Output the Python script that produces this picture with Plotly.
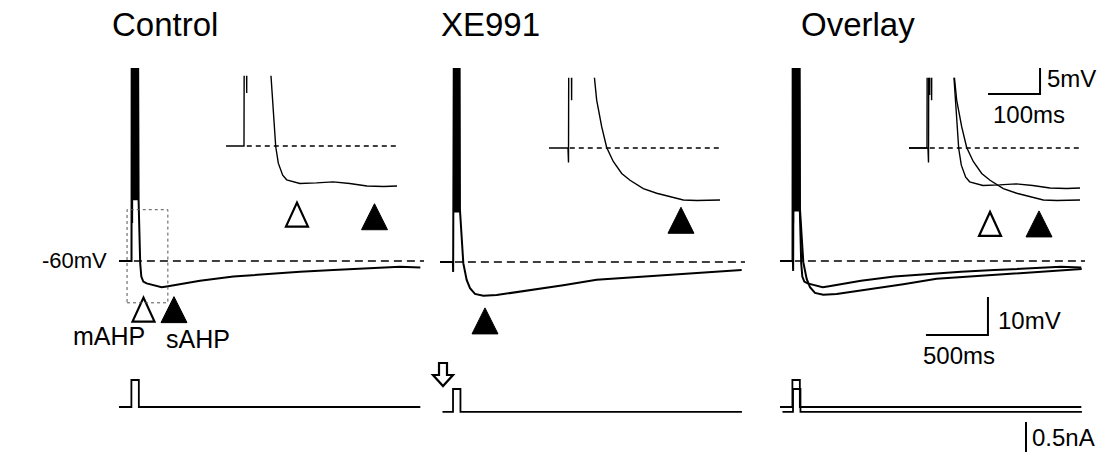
import plotly.graph_objects as go

W, H = 1108, 453

# ---------------- data ----------------
# whole-trace membrane potential, Control (time ms, voltage mV)
ctrl_t = [0, 60, 101, 103, 106, 109, 112, 115, 118, 121, 124, 127, 130, 133, 136, 139, 142, 145, 148, 151,
          158, 165, 171, 180, 196, 223, 277, 344, 384, 519, 653, 922, 1191, 1460, 1728, 1997, 2266, 2430]
ctrl_v = [-60, -60, -60, 25, -50, 25, -44, 25, -44, 25, -44, 25, -44, 25, -44, 25, -44, 25, -44, 25,
          -44, -57.1, -60.6, -64.1, -65.4, -65.9, -66.3, -66.9, -66.7, -65.9, -65.2, -64.1, -63.4, -62.8,
          -62.4, -61.9, -61.5, -61.7]
# whole-trace membrane potential, XE991
xe_t = [0, 60, 104, 106, 108, 111, 114, 117, 120, 123, 126, 129, 132, 135, 138, 141, 144, 147, 150, 153, 156,
        161, 175, 188, 215, 242, 282, 349, 457, 591, 726, 994, 1263, 1532, 1801, 2070, 2433]
xe_v = [-60, -60, -60, -62.6, 25, -51, 25, -47, 25, -47, 25, -47, 25, -47, 25, -47, 25, -47, 25, -47, 25,
        -46.3, -55.1, -60.3, -64.7, -66.9, -68.4, -68.9, -68.7, -68.1, -67.4, -66.1, -64.7, -64.1, -63.4,
        -62.8, -62.1]
# expanded (inset) view of the first ~400 ms
ctrl_in_t = [65, 99.6, 101.5, 104.8, 107, 110, 113, 116, 119, 122, 125, 128, 131, 134, 137, 140, 143, 146,
             149.5, 151.5, 156, 160.6, 165.6, 174, 181.7, 207, 239, 271, 303, 336, 368, 394]
ctrl_in_v = [-60, -60, 25, -49.8, 25, -44, 25, -44, 25, -44, 25, -44, 25, -44, 25, -44, 25, -44,
             25, -46.5, -54.2, -60.1, -63.3, -65.6, -66.5, -67.2, -67.1, -66.9, -67.2, -67.7, -67.8, -67.7]
xe_in_t = [65, 101.5, 102.5, 104.5, 108.5, 111, 114, 117, 120, 123, 126, 129, 132, 135, 138, 141, 144, 147.5,
           152.1, 156.7, 166.3, 175.9, 188.6, 204.8, 220.8, 246.4, 272.1, 297.7, 323.3, 349, 394]
xe_in_v = [-60, -60, -62.8, 25, -50.8, 25, -46, 25, -46, 25, -46, 25, -46, 25, -46, 25, -46, 25,
           -46.2, -50.8, -55.9, -59.9, -62.6, -64.9, -66.2, -67.8, -68.7, -69.4, -70.0, -70.1, -70.0]
# injected current (time ms, nA)
ctrl_cur_t = [0, 100, 100, 160, 160, 2430]
ctrl_cur = [0, 0, 0.45, 0.45, 0, 0]
xe_cur_t = [20, 105, 105, 165, 165, 2435]
xe_cur = [-0.08, -0.08, 0.30, 0.30, -0.08, -0.08]

rest_mv = -60
inset_window_t = [65, 394]
inset_window_v = [-71, -46.5]

# AHP markers (time ms, voltage mV)
ctrl_main_mahp = (197.6, -72.8)
ctrl_main_sahp = (443.5, -72.8)
xe_main_sahp = (363, -75.5)
ctrl_in_mahp = (201.5, -73.2)
ctrl_in_sahp = (350.6, -73.6)
xe_in_sahp = (318.8, -73.9)
ov_in_mahp = (220.8, -74.6)
ov_in_sahp = (315, -74.6)

scale_main = (500, 10)     # ms, mV
scale_inset = (100, 5)     # ms, mV
scale_cur = 0.5            # nA

# ---------------- geometry (pixels) ----------------
MAIN_T = 62 / 500   # px per ms
MAIN_V = 38 / 10    # px per mV
IN_T = 52 / 100
IN_V = 26 / 5
CUR_I = 30 / 0.5    # px per nA

FONT = "Liberation Sans, Arial, sans-serif"


def xax(px0, px1, origin_px, origin_val, scale, anchor):
    return dict(domain=[px0 / W, px1 / W],
                range=[origin_val + (px0 - origin_px) / scale, origin_val + (px1 - origin_px) / scale],
                visible=False, anchor=anchor, fixedrange=True)


def yax(ptop, pbot, origin_py, origin_val, scale, anchor):
    return dict(domain=[1 - pbot / H, 1 - ptop / H],
                range=[origin_val - (pbot - origin_py) / scale, origin_val + (origin_py - ptop) / scale],
                visible=False, anchor=anchor, fixedrange=True)


def nm(n):
    return "" if n == 1 else str(n)


panels = [
    dict(mx0=119, my60=261, ix65=226, iy60=146, dom=(100, 440)),
    dict(mx0=440, my60=262, ix65=549, iy60=148, dom=(430, 770)),
    dict(mx0=780, my60=261, ix65=909, iy60=148, dom=(770, 1100)),
]

layout = dict(width=W, height=H, margin=dict(l=0, r=0, t=0, b=0),
              paper_bgcolor="white", plot_bgcolor="rgba(0,0,0,0)", showlegend=False)

INSET_AX_BOTTOM = -78   # axis reaches below the expanded window so markers can sit there

for i, p in enumerate(panels):
    a_main, a_in, a_cur = 3 * i + 1, 3 * i + 2, 3 * i + 3
    layout["xaxis" + nm(a_main)] = xax(p["dom"][0], p["dom"][1], p["mx0"], 0, MAIN_T, "y" + nm(a_main))
    layout["yaxis" + nm(a_main)] = yax(68, 345, p["my60"], rest_mv, MAIN_V, "x" + nm(a_main))
    ipx0 = p["ix65"] + (inset_window_t[0] - 65) * IN_T
    ipx1 = p["ix65"] + (inset_window_t[1] - 65) * IN_T
    ipt = p["iy60"] - (inset_window_v[1] - rest_mv) * IN_V
    ipb = p["iy60"] - (INSET_AX_BOTTOM - rest_mv) * IN_V
    layout["xaxis" + nm(a_in)] = xax(ipx0, ipx1, p["ix65"], 65, IN_T, "y" + nm(a_in))
    layout["yaxis" + nm(a_in)] = yax(ipt, ipb, p["iy60"], rest_mv, IN_V, "x" + nm(a_in))
    layout["xaxis" + nm(a_cur)] = xax(p["dom"][0], p["dom"][1], p["mx0"], 0, MAIN_T, "y" + nm(a_cur))
    layout["yaxis" + nm(a_cur)] = yax(360, 453, 407, 0, CUR_I, "x" + nm(a_cur))

# dedicated axes for the inset scale bar (same scale as the overlay inset)
layout["xaxis10"] = xax(975, 1050, 909, 65, IN_T, "y10")
layout["yaxis10"] = yax(60, 100, 148, rest_mv, IN_V, "x10")

fig = go.Figure()


def line(x, y, n, width=2.0, dash=None, color="black"):
    fig.add_trace(go.Scatter(x=x, y=y, mode="lines", xaxis="x" + nm(n), yaxis="y" + nm(n),
                             line=dict(color=color, width=width, dash=dash), hoverinfo="skip"))


recordings = {
    0: [(ctrl_t, ctrl_v, ctrl_in_t, ctrl_in_v, ctrl_cur_t, ctrl_cur)],
    1: [(xe_t, xe_v, xe_in_t, xe_in_v, xe_cur_t, xe_cur)],
    2: [(ctrl_t, ctrl_v, ctrl_in_t, ctrl_in_v, ctrl_cur_t, ctrl_cur),
        (xe_t, xe_v, xe_in_t, xe_in_v, xe_cur_t, xe_cur)],
}

for i in range(3):
    a_main, a_in, a_cur = 3 * i + 1, 3 * i + 2, 3 * i + 3
    # dashed resting-potential references
    line([120, 2460], [rest_mv, rest_mv], a_main, width=1.7, dash="8px,5px")
    line([105, 394], [rest_mv, rest_mv], a_in, width=1.3, dash="5px,4px")
    for (mt, mv, it, iv, ct, cc) in recordings[i]:
        line(mt, mv, a_main, width=2.0)
        line(it, iv, a_in, width=1.4)
        line(ct, cc, a_cur, width=1.8)

shapes = []


# AHP markers: triangles sized in pixels, placed at data positions
def tri(pt, n, sx, sy, filled):
    w, h = (26, 26) if filled else (22, 24)
    dt, dv = w / 2 / sx, h / 2 / sy
    t, v = pt
    shapes.append(dict(type="path", xref="x" + nm(n), yref="y" + nm(n),
                       path=f"M {t - dt},{v - dv} L {t + dt},{v - dv} L {t},{v + dv} Z",
                       fillcolor="black" if filled else "white",
                       line=dict(color="black", width=1 if filled else 2.2)))


tri(ctrl_main_mahp, 1, MAIN_T, MAIN_V, False)
tri(ctrl_main_sahp, 1, MAIN_T, MAIN_V, True)
tri(xe_main_sahp, 4, MAIN_T, MAIN_V, True)
tri(ctrl_in_mahp, 2, IN_T, IN_V, False)
tri(ctrl_in_sahp, 2, IN_T, IN_V, True)
tri(xe_in_sahp, 5, IN_T, IN_V, True)
tri(ov_in_mahp, 8, IN_T, IN_V, False)
tri(ov_in_sahp, 8, IN_T, IN_V, True)

# dotted box marking the expanded window on the Control trace
shapes.append(dict(type="rect", xref="x", yref="y", x0=inset_window_t[0], x1=inset_window_t[1],
                   y0=inset_window_v[0], y1=inset_window_v[1],
                   line=dict(color="#555555", width=1, dash="dot")))
# main scale bar (overlay main axes)
sb_t, sb_v = 1677, -79.5
shapes.append(dict(type="path", xref="x7", yref="y7",
                   path=f"M {sb_t - scale_main[0]},{sb_v} L {sb_t},{sb_v} L {sb_t},{sb_v + scale_main[1]}",
                   line=dict(color="black", width=2)))
# inset scale bar
si_t, si_v = 317, -49.6
shapes.append(dict(type="path", xref="x10", yref="y10",
                   path=f"M {si_t - scale_inset[0]},{si_v} L {si_t},{si_v} L {si_t},{si_v + scale_inset[1]}",
                   line=dict(color="black", width=2)))
# current scale bar
sc_t, sc_i = 1984, -0.75
shapes.append(dict(type="line", xref="x9", yref="y9", x0=sc_t, x1=sc_t, y0=sc_i, y1=sc_i + scale_cur,
                   line=dict(color="black", width=2)))


# hollow down-arrow pointing at the XE991 current trace (drawn in page pixels)
def pp(x, y):
    return f"{x / W:.5f},{1 - y / H:.5f}"


arrow_px = [(439, 363), (447, 363), (447, 375), (453, 375), (443, 386), (433, 375), (439, 375)]
shapes.append(dict(type="path", xref="paper", yref="paper",
                   path="M " + " L ".join(pp(x, y) for x, y in arrow_px) + " Z",
                   fillcolor="white", line=dict(color="black", width=2.2)))
layout["shapes"] = shapes


def ann(text, px, py, size, xanchor="left", family=FONT):
    return dict(text=text, x=px / W, y=1 - py / H, xref="paper", yref="paper", showarrow=False,
                xanchor=xanchor, yanchor="middle", font=dict(family=family, size=size, color="black"))


layout["annotations"] = [
    ann("Control", 110, 25, 33),
    ann("XE991", 439, 25, 33),
    ann("Overlay", 799, 25, 33),
    ann("-60mV", 40, 260, 22),
    ann("mAHP", 71, 336, 25),
    ann("sAHP", 164, 339, 25),
    ann("5mV", 1045, 78, 24),
    ann("100ms", 991, 115, 24),
    ann("10mV", 996, 320, 24),
    ann("500ms", 921, 355, 24),
    ann("0.5nA", 1030, 437, 24),
]

fig.update_layout(**layout)
fig.write_html("out.html", config={"displayModeBar": False})
